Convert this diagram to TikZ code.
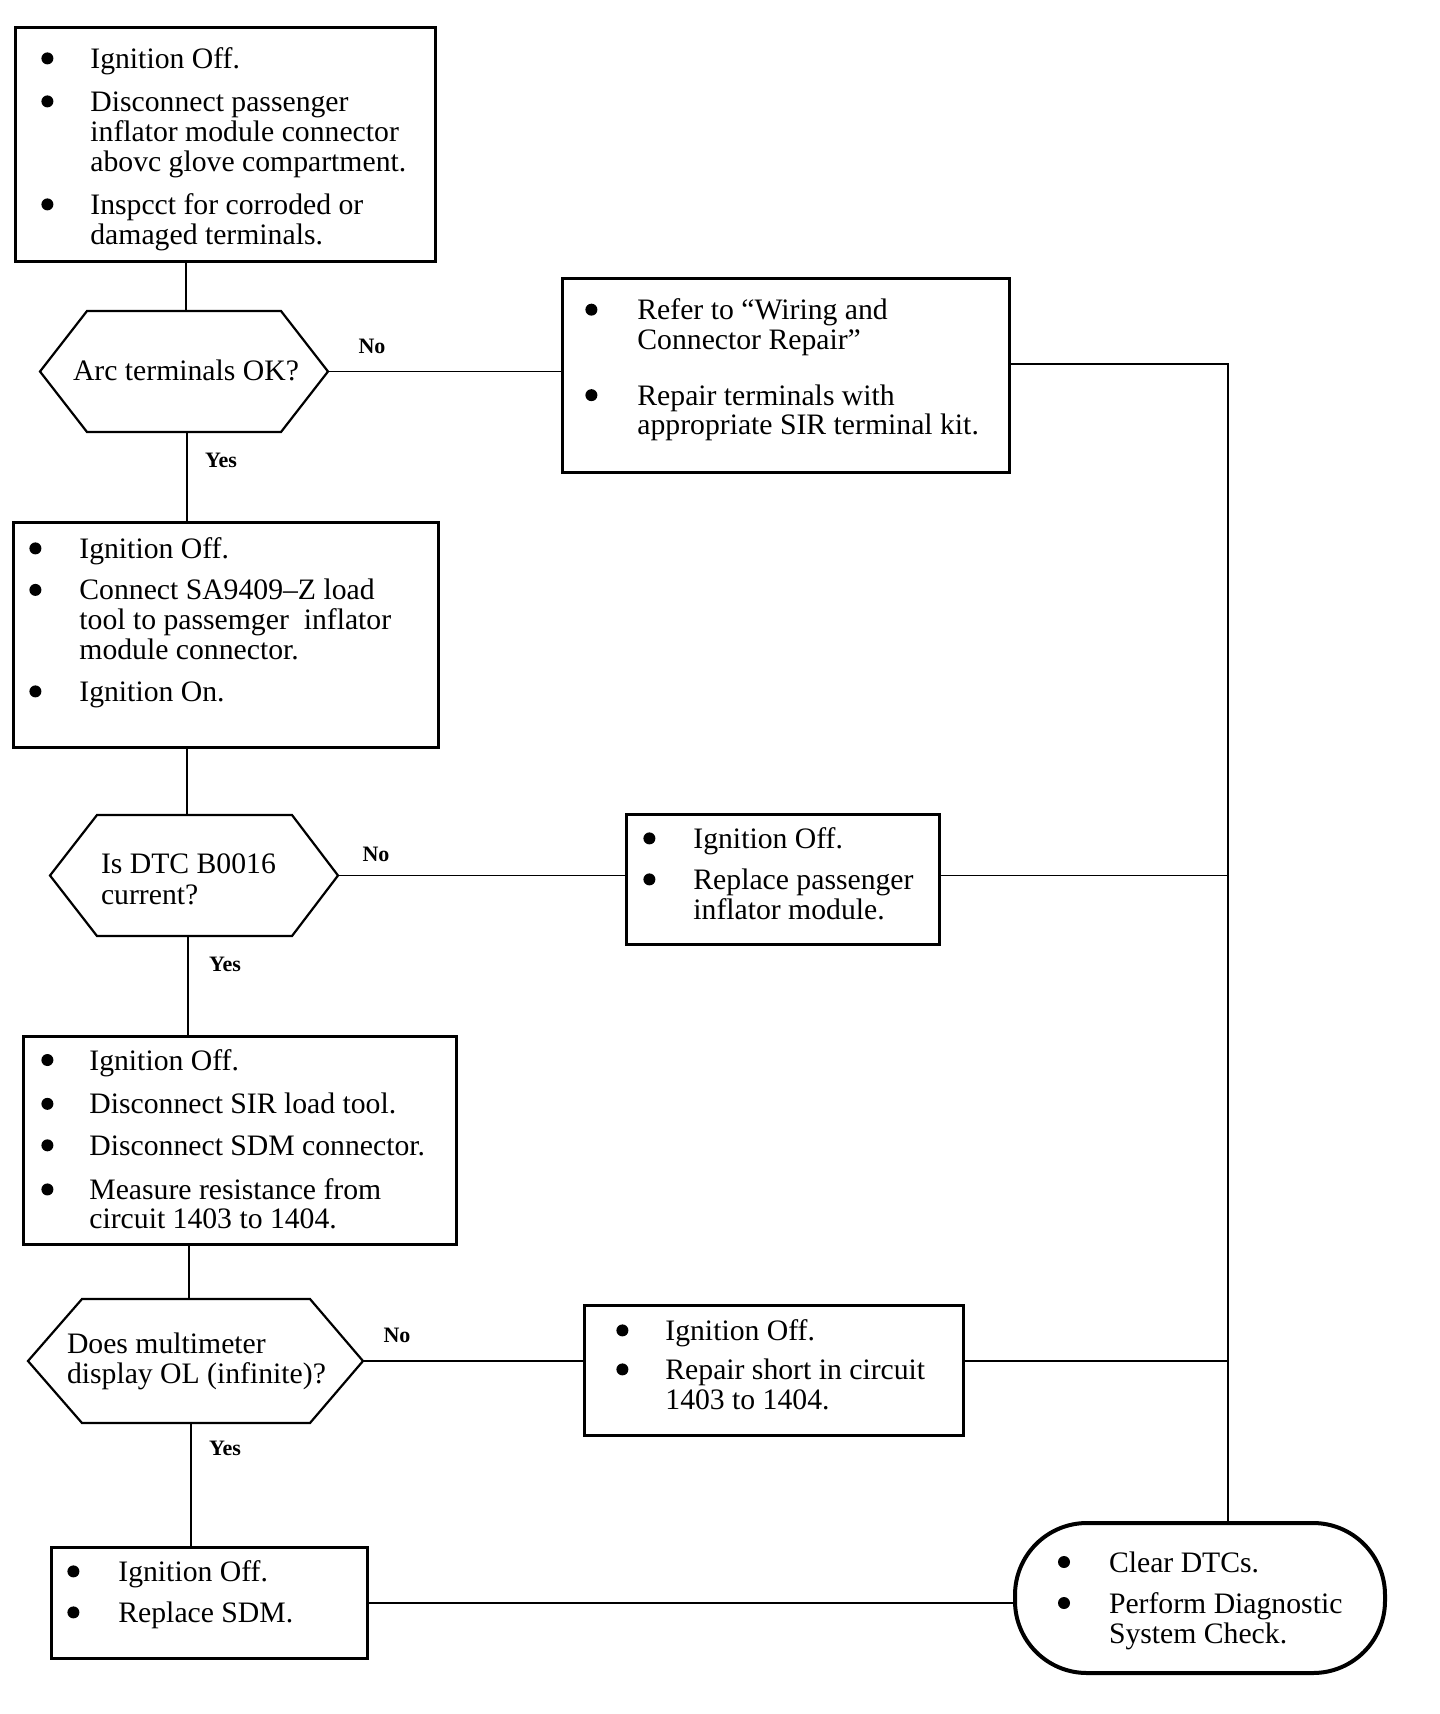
\documentclass[tikz,border=0pt]{standalone}
\usepackage{fontspec}
\setmainfont{Liberation Serif}
\newlength\px
\setlength\px{0.5pt}
\newcommand\bul{\tikz[baseline=0pt]\fill (0pt,5pt) circle (3pt);}
% #1 W, #2 H, #3 first baseline, #4 text left, #5 baselineskip, #6 item gap, #7 bullet dist, #8 content
\newcommand\bx[8]{\parbox[t][#2\px][t]{#1\px}{\fontsize{14.85pt}{#5\px}\selectfont
\def\igap{\vskip#6\px\relax}\def\bdist{#7}%
\leftskip=#4\px\relax\rightskip=-80pt plus 1fil\relax\parfillskip=0pt plus 1fil\relax
\vspace*{\dimexpr#3\px-\ht\strutbox\relax}#8}}
\newcommand\bitem[1]{\par\noindent\llap{\bul\hspace{\dimexpr\bdist\px-3pt\relax}}\strut#1\par}
\newcommand\tline[1]{\par\noindent\strut#1\par}
\tikzset{
  box/.style={draw, line width=1.4pt, inner sep=0pt, anchor=north west},
  hexnode/.style={draw=none, inner sep=0pt, outer sep=0pt, anchor=north west},
  hexline/.style={line width=1.1pt, line join=miter},
  termbox/.style={draw, line width=2pt, rounded corners=36pt, inner sep=0pt, anchor=north west},
  conn/.style={line width=0.9pt},
  lbl/.style={font=\fontsize{11pt}{12pt}\selectfont\bfseries, inner sep=0pt, anchor=base},
}
\begin{document}
\begin{tikzpicture}[x=0.5pt,y=-0.5pt]
\useasboundingbox (0,0) rectangle (1440,1714);
\fill[white] (0,0) rectangle (1440,1714);

% boxes
\node[box] (b1) at (14,26) {\bx{420}{234}{41}{75}{30}{13}{43}{%
\bitem{Ignition Off.}\igap
\bitem{Disconnect passenger\\inflator module connector\\abovc glove compartment.}\igap
\bitem{Inspcct for corroded or\\damaged terminals.}}};

\node[box] (b2) at (561,277) {\bx{447}{194}{41}{75}{29.5}{26.5}{46}{%
\bitem{Refer to “Wiring and\\Connector Repair”}\igap
\bitem{Repair terminals with\\appropriate SIR terminal kit.}}};

\node[box] (b3) at (12,521) {\bx{425}{225}{36}{66}{30}{11.5}{44}{%
\bitem{Ignition Off.}\igap
\bitem{Connect SA9409--Z load\\tool to passemger\ \ inflator\\module connector.}\igap
\bitem{Ignition On.}}};

\node[box] (r2) at (625,813) {\bx{313}{130}{34}{67}{30}{11}{44}{%
\bitem{Ignition Off.}\igap
\bitem{Replace passenger\\inflator module.}}};

\node[box] (b4) at (22,1035) {\bx{433}{208}{33}{66}{29}{12.5}{42}{%
\bitem{Ignition Off.}\igap
\bitem{Disconnect SIR load tool.}\igap
\bitem{Disconnect SDM connector.}\igap
\bitem{Measure resistance from\\circuit 1403 to 1404.}}};

\node[box] (r3) at (583,1304) {\bx{379}{130}{35}{81}{30}{9}{43}{%
\bitem{Ignition Off.}\igap
\bitem{Repair short in circuit\\1403 to 1404.}}};

\node[box] (b6) at (50,1546) {\bx{316}{111}{34}{67}{30}{11}{45}{%
\bitem{Ignition Off.}\igap
\bitem{Replace SDM.}}};

\node[termbox] (term) at (1013,1521) {\bx{370}{150}{49}{94}{30}{11}{45}{%
\bitem{Clear DTCs.}\igap
\bitem{Perform Diagnostic\\System Check.}}};

% decision hexagons
\node[hexnode] (h1) at (40,311) {\bx{288}{121}{69}{33}{30}{0}{0}{\tline{Arc terminals OK?}}};
\node[hexnode] (h2) at (50,815) {\bx{288}{121}{58}{51}{31}{0}{0}{\tline{Is DTC B0016\\current?}}};
\node[hexnode] (h3) at (28,1299) {\bx{335}{124}{54}{39}{30}{0}{0}{\tline{Does multimeter\\display OL (infinite)?}}};

\draw[hexline] (h1.west) -- ([xshift=47\px]h1.north west) -- ([xshift=-47\px]h1.north east) -- (h1.east) -- ([xshift=-47\px]h1.south east) -- ([xshift=47\px]h1.south west) -- cycle;
\draw[hexline] (h2.west) -- ([xshift=47\px]h2.north west) -- ([xshift=-46\px]h2.north east) -- (h2.east) -- ([xshift=-46\px]h2.south east) -- ([xshift=47\px]h2.south west) -- cycle;
\draw[hexline] (h3.west) -- ([xshift=54\px]h3.north west) -- ([xshift=-53\px]h3.north east) -- (h3.east) -- ([xshift=-53\px]h3.south east) -- ([xshift=54\px]h3.south west) -- cycle;

% labels
\node[lbl] (no1) at (372,353) {No};
\node[lbl] (yes1) at (221,467) {Yes};
\node[lbl] (no2) at (376,861) {No};
\node[lbl] (yes2) at (225,971) {Yes};
\node[lbl] (no3) at (397,1342) {No};
\node[lbl] (yes3) at (225,1455) {Yes};

% spine coordinates
\coordinate (c1) at (186,0);
\coordinate (c2) at (187,0);
\coordinate (c3) at (187,0);
\coordinate (c4) at (188,0);
\coordinate (c5) at (189,0);
\coordinate (c6) at (191,0);
\coordinate (rx) at (1228,364);

% connectors, left column
\draw[conn] (c1 |- b1.south) -- (c1 |- h1.north);
\draw[conn] (c2 |- h1.south) -- (c2 |- b3.north);
\draw[conn] (c3 |- b3.south) -- (c3 |- h2.north);
\draw[conn] (c4 |- h2.south) -- (c4 |- b4.north);
\draw[conn] (c5 |- b4.south) -- (c5 |- h3.north);
\draw[conn] (c6 |- h3.south) -- (c6 |- b6.north);

% connectors, "No" branches
\draw[conn] (h1.east) -- (h1.east -| b2.west);
\draw[conn] (h2.east) -- (h2.east -| r2.west);
\draw[conn] (h3.east) -- (h3.east -| r3.west);

% connectors to the end
\draw[conn] (b2.east |- rx) -- (rx) -- (rx |- term.north);
\draw[conn] (r2.east |- h2.east) -- (h2.east -| rx);
\draw[conn] (r3.east |- h3.east) -- (h3.east -| rx);
\draw[conn] (b6.east) -- (b6.east -| term.west);
\end{tikzpicture}
\end{document}
